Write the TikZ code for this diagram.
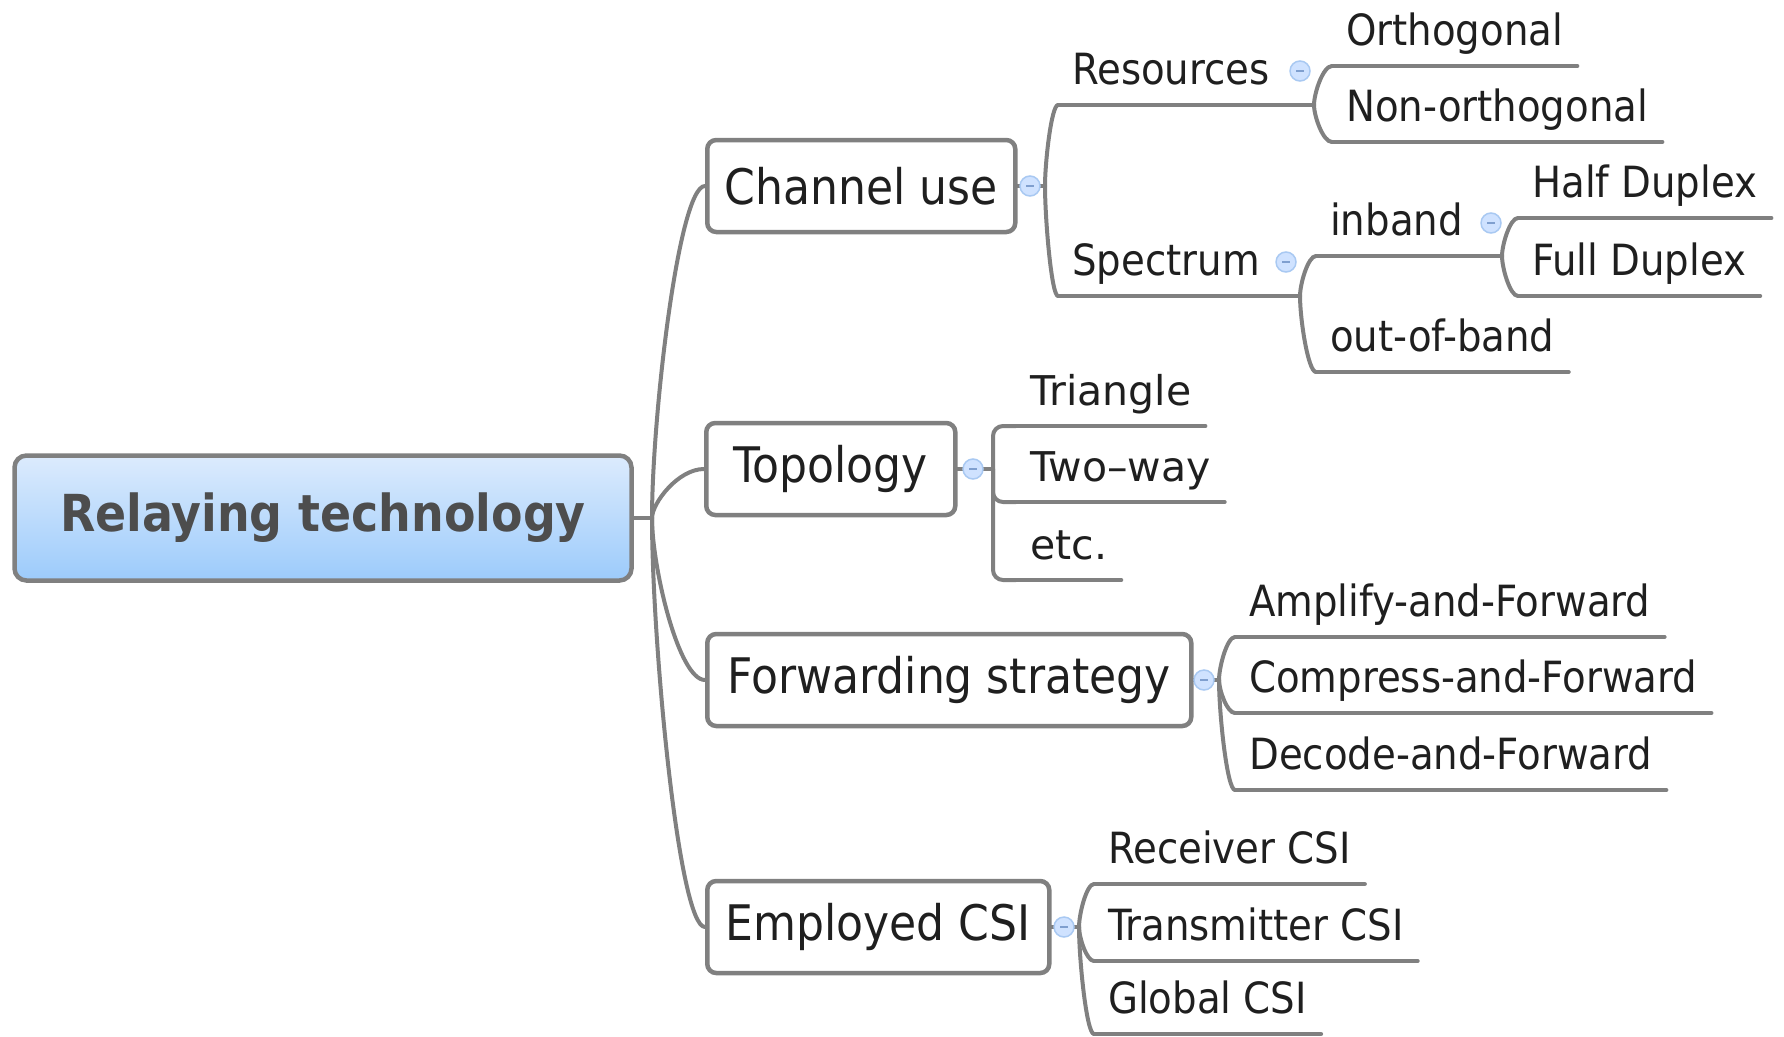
\documentclass[tikz,border=0pt]{standalone}
\usepackage{fontspec}
\setmainfont{DejaVu Sans Condensed}
\newfontfamily\wideface{DejaVu Sans}
\usetikzlibrary{calc}

\definecolor{linegray}{HTML}{808080}
\definecolor{rootlight}{HTML}{DCEBFD}
\definecolor{rootblue}{HTML}{9CCBFB}
\definecolor{rootink}{HTML}{4D4D4D}
\definecolor{inkdark}{HTML}{1F1F1F}
\definecolor{foldfill}{HTML}{CFE2FF}
\definecolor{folddraw}{HTML}{A9C9F2}
\definecolor{foldminus}{HTML}{7F9FCF}

\begin{document}
\begin{tikzpicture}[x=1pt,y=-1pt,
  root/.style={draw=linegray, line width=4.5, rounded corners=12,
    top color=rootlight, bottom color=rootblue,
    minimum width=617, minimum height=125,
    font=\bfseries\fontsize{51}{60}\selectfont, text=rootink},
  topic/.style={draw=linegray, line width=4.5, rounded corners=9, anchor=west,
    minimum height=92, inner xsep=15,
    font=\fontsize{49}{58}\selectfont, text=inkdark},
  leaf/.style={anchor=south west, inner xsep=14, inner ysep=0, text depth=20,
    font=\fontsize{43}{50}\selectfont, text=inkdark,
    append after command={(\tikzlastnode.south west)
      edge[draw=linegray, line width=4, line cap=round] (\tikzlastnode.south east)}},
  wideleaf/.style={leaf, font=\wideface\fontsize{41}{48}\selectfont},
  fold/.style={circle, draw=folddraw, fill=foldfill, line width=1.5,
    minimum size=20, inner sep=0,
    path picture={\draw[foldminus, line width=1.5]
      ([xshift=-4pt]path picture bounding box.center) --
      ([xshift=4pt]path picture bounding box.center);}},
  branch/.style={draw=linegray, line width=4, line cap=round},
  curvy/.style={to path={.. controls ($(\tikztostart)!0.3!(\tikztostart |- \tikztotarget)$)
      and ($(\tikztostart |- \tikztotarget)!0.5!(\tikztotarget)$) .. (\tikztotarget)}},
  elbow/.style={rounded corners=10, to path={|- (\tikztotarget)}}]
  \useasboundingbox (0,0) rectangle (1784,1036);

  % junction points
  \coordinate (rootJ) at (652,518);
  \coordinate (chanJ) at (1045,186);
  \coordinate (resJ)  at (1314,105);
  \coordinate (specJ) at (1300,296);
  \coordinate (inbJ)  at (1502,256);
  \coordinate (topoJ) at (993,469);
  \coordinate (fwdJ)  at (1219,680);
  \coordinate (csiJ)  at (1079,927);

  % central topic and main branches
  \node[root] (root) at (323,518) {Relaying technology};
  \node[topic, minimum width=308] (chan) at (705,186) {Channel use};
  \node[topic, minimum width=249] (topo) at (704,469) {Topology};
  \node[topic, minimum width=484] (fwd)  at (705,680) {Forwarding strategy};
  \node[topic, minimum width=342] (csi)  at (705,927) {Employed CSI};

  % channel use
  \node[leaf] (res)     at (1058,105) {Resources};
  \node[leaf] (orth)    at (1332,66)  {Orthogonal};
  \node[leaf] (nonorth) at (1332,142) {Non-orthogonal};
  \node[leaf] (spec)    at (1058,296) {Spectrum};
  \node[leaf] (inb)     at (1316,256) {inband};
  \node[leaf] (oob)     at (1316,372) {out-of-band};
  \node[leaf] (half)    at (1518,218) {Half Duplex};
  \node[leaf] (full)    at (1518,296) {Full Duplex};

  % topology
  \node[wideleaf] (tri)  at (1016,426) {Triangle};
  \node[wideleaf] (two)  at (1016,502) {Two–way};
  \node[wideleaf] (more) at (1016,580) {etc.};

  % forwarding strategy
  \node[leaf] (amp)  at (1235,637) {Amplify-and-Forward};
  \node[leaf] (comp) at (1235,713) {Compress-and-Forward};
  \node[leaf] (dec)  at (1235,790) {Decode-and-Forward};

  % employed CSI
  \node[leaf] (rcv)  at (1094,884)  {Receiver CSI};
  \node[leaf] (tx)   at (1094,961)  {Transmitter CSI};
  \node[leaf] (glob) at (1094,1034) {Global CSI};

  \path[branch]
    (root.east) edge (rootJ)
    (rootJ) edge[curvy] (chan.west) edge[curvy] (topo.west)
            edge[curvy] (fwd.west)  edge[curvy] (csi.west)
    (chan.east) edge (chanJ)
    (chanJ) edge[curvy] (res.south west) edge[curvy] (spec.south west)
    (res.south east) edge (resJ)
    (resJ) edge[curvy] (orth.south west) edge[curvy] (nonorth.south west)
    (spec.south east) edge (specJ)
    (specJ) edge[curvy] (inb.south west) edge[curvy] (oob.south west)
    (inb.south east) edge (inbJ)
    (inbJ) edge[curvy] (half.south west) edge[curvy] (full.south west)
    (topo.east) edge (topoJ)
    (topoJ) edge[elbow] (tri.south west) edge[elbow] (two.south west)
            edge[elbow] (more.south west)
    (fwd.east) edge (fwdJ)
    (fwdJ) edge[curvy] (amp.south west) edge[curvy] (comp.south west)
           edge[curvy] (dec.south west)
    (csi.east) edge (csiJ)
    (csiJ) edge[curvy] (rcv.south west) edge[curvy] (tx.south west)
           edge[curvy] (glob.south west);

  % collapse markers
  \node[fold] (chanF) at (1030,186) {};
  \node[fold] (resF)  at (1300,71)  {};
  \node[fold] (specF) at (1286,262) {};
  \node[fold] (inbF)  at (1491,223) {};
  \node[fold] (topoF) at (973,469)  {};
  \node[fold] (fwdF)  at (1204,680) {};
  \node[fold] (csiF)  at (1064,927) {};
\end{tikzpicture}
\end{document}
